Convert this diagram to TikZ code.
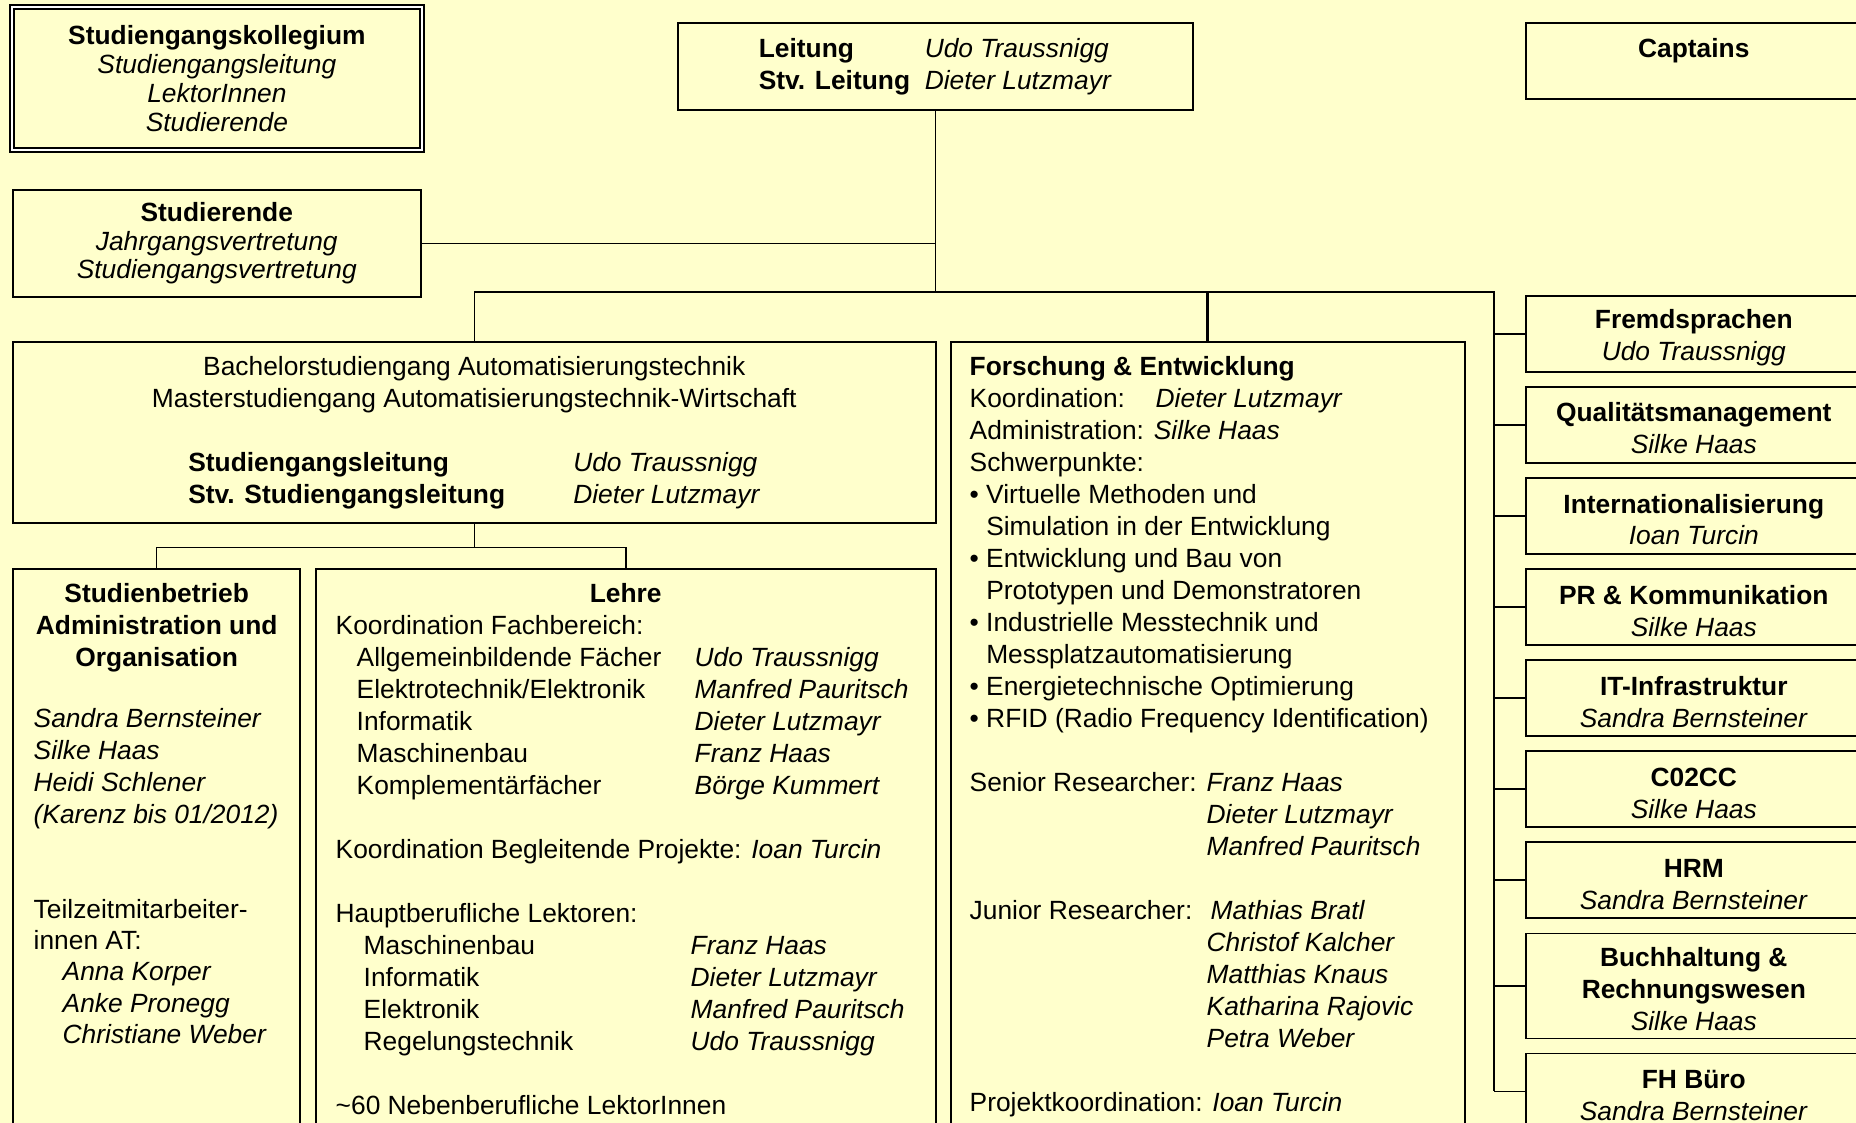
\documentclass[tikz,border=0pt]{standalone}
\usepackage{fontspec}
\setmainfont{Liberation Sans}
\usetikzlibrary{positioning}

\definecolor{paper}{HTML}{FFFFCC}

\tikzset{
    box/.style={draw, fill=paper, line width=0.45pt, inner sep=0pt, anchor=north west, align=center},
    sidebox/.style={box, minimum width=3.36cm, minimum height=0.76cm},
    boxtext/.style={anchor=north west, inner sep=0pt, align=left},
    tight/.style={font=\fontsize{7.5}{8.2}\selectfont},
    link/.style={line width=0.45pt},
    mainlink/.style={line width=0.8pt}
}

\newcommand{\nm}[1]{\textit{#1}}
\newcommand{\hd}[1]{\rule{0pt}{7.5pt}\textbf{#1}}
\newcommand{\fachrow}[3]{\makebox[#1][l]{#2}\nm{#3}}
\newcommand{\contline}{\hphantom{• }}

\begin{document}
\begin{tikzpicture}[font=\fontsize{7.5}{9.1}\selectfont]
    \useasboundingbox (0,0) rectangle (18.56,-11.23);
    \clip (0,0) rectangle (18.56,-11.23);
    \fill[paper] (0,0) rectangle (18.56,-11.23);

    % top row
    \node[box, tight, double, line width=0.5pt, double distance=0.6pt,
        minimum width=4.10cm, minimum height=1.43cm] (kolleg) at (0.11,-0.06)
        {\textbf{Studiengangskollegium}\\ \nm{Studiengangsleitung}\\ \nm{LektorInnen}\\ \nm{Studierende}};
    \node[box, minimum width=5.15cm, minimum height=0.87cm] (leitung) at (6.77,-0.22)
        {\makebox[1.66cm][l]{\textbf{Leitung}}\makebox[1.87cm][l]{\nm{Udo Traussnigg}}\\
         \makebox[1.66cm][l]{\textbf{Stv. Leitung}}\makebox[1.87cm][l]{\nm{Dieter Lutzmayr}}};
    \node[box, minimum width=3.36cm, minimum height=0.76cm] (captains) at (15.25,-0.22)
        {\textbf{Captains}\\[-4.6pt] \strut};
    \node[box, tight, minimum width=4.08cm, minimum height=1.07cm] (studierende) at (0.12,-1.89)
        {\textbf{Studierende}\\ \nm{Jahrgangsvertretung}\\ \nm{Studiengangsvertretung}};

    % Studiengang
    \node[box, minimum width=9.23cm, minimum height=1.81cm] (bachelor) at (0.12,-3.41)
        {Bachelorstudiengang Automatisierungstechnik\\
         Masterstudiengang Automatisierungstechnik-Wirtschaft\\[9.1pt]
         \makebox[3.85cm][l]{\textbf{Studiengangsleitung}}\makebox[1.87cm][l]{\nm{Udo Traussnigg}}\\
         \makebox[3.85cm][l]{\textbf{Stv. Studiengangsleitung}}\makebox[1.87cm][l]{\nm{Dieter Lutzmayr}}};
    \node[box, minimum width=2.87cm, minimum height=5.8cm] (betrieb) at (0.12,-5.68) {};
    \node[box, minimum width=6.20cm, minimum height=5.8cm] (lehre) at (3.15,-5.68) {};
    \node[box, minimum width=5.14cm, minimum height=8.1cm] (fue) at (9.50,-3.41) {};

    \node[boxtext] (betriebtext) at ([shift={(0.21,-0.15)}]betrieb.north west)
        {\makebox[2.46cm]{\textbf{Studienbetrieb}}\\
         \makebox[2.46cm]{\textbf{Administration und}}\\
         \makebox[2.46cm]{\textbf{Organisation}}\\[8.1pt]
         \nm{Sandra Bernsteiner}\\
         \nm{Silke Haas}\\
         \nm{Heidi Schlener}\\
         \nm{(Karenz bis 01/2012)}\\[18pt]
         Teilzeitmitarbeiter-\\[-0.2pt]
         innen AT:\\[-0.2pt]
         \hspace*{0.29cm}\nm{Anna Korper}\\[-0.2pt]
         \hspace*{0.29cm}\nm{Anke Pronegg}\\[-0.2pt]
         \hspace*{0.29cm}\nm{Christiane Weber}};

    \node[boxtext] (lehretext) at ([shift={(0.20,-0.15)}]lehre.north west)
        {\makebox[5.8cm]{\textbf{Lehre}}\\
         Koordination Fachbereich:\\
         \hspace*{0.21cm}\fachrow{3.38cm}{Allgemeinbildende Fächer}{Udo Traussnigg}\\
         \hspace*{0.21cm}\fachrow{3.38cm}{Elektrotechnik/Elektronik}{Manfred Pauritsch}\\
         \hspace*{0.21cm}\fachrow{3.38cm}{Informatik}{Dieter Lutzmayr}\\
         \hspace*{0.21cm}\fachrow{3.38cm}{Maschinenbau}{Franz Haas}\\
         \hspace*{0.21cm}\fachrow{3.38cm}{Komplementärfächer}{Börge Kummert}\\[9.1pt]
         Koordination Begleitende Projekte: \nm{Ioan Turcin}\\[9.1pt]
         Hauptberufliche Lektoren:\\
         \hspace*{0.28cm}\fachrow{3.27cm}{Maschinenbau}{Franz Haas}\\
         \hspace*{0.28cm}\fachrow{3.27cm}{Informatik}{Dieter Lutzmayr}\\
         \hspace*{0.28cm}\fachrow{3.27cm}{Elektronik}{Manfred Pauritsch}\\
         \hspace*{0.28cm}\fachrow{3.27cm}{Regelungstechnik}{Udo Traussnigg}\\[9.1pt]
         \textasciitilde 60 Nebenberufliche LektorInnen};

    \node[boxtext] (fuetext) at ([shift={(0.19,-0.15)}]fue.north west)
        {\textbf{Forschung \& Entwicklung}\\
         \fachrow{1.86cm}{Koordination:}{Dieter Lutzmayr}\\
         Administration: \nm{Silke Haas}\\
         Schwerpunkte:\\
         • Virtuelle Methoden und\\
         \contline Simulation in der Entwicklung\\
         • Entwicklung und Bau von\\
         \contline Prototypen und Demonstratoren\\
         • Industrielle Messtechnik und\\
         \contline Messplatzautomatisierung\\
         • Energietechnische Optimierung\\
         • RFID (Radio Frequency Identification)\\[9.1pt]
         \fachrow{2.37cm}{Senior Researcher:}{Franz Haas}\\
         \hspace*{2.37cm}\nm{Dieter Lutzmayr}\\
         \hspace*{2.37cm}\nm{Manfred Pauritsch}\\[9.1pt]
         \fachrow{2.41cm}{Junior Researcher:}{Mathias Bratl}\\
         \hspace*{2.37cm}\nm{Christof Kalcher}\\
         \hspace*{2.37cm}\nm{Matthias Knaus}\\
         \hspace*{2.37cm}\nm{Katharina Rajovic}\\
         \hspace*{2.37cm}\nm{Petra Weber}\\[9.1pt]
         Projektkoordination: \nm{Ioan Turcin}};

    % right column
    \node[sidebox] (fremd) at (15.25,-2.95) {\hd{Fremdsprachen}\\ \nm{Udo Traussnigg}};
    \node[sidebox, below=0.135cm of fremd] (quali) {\hd{Qualitätsmanagement}\\ \nm{Silke Haas}};
    \node[sidebox, below=0.135cm of quali] (intern) {\hd{Internationalisierung}\\ \nm{Ioan Turcin}};
    \node[sidebox, below=0.135cm of intern] (pr) {\hd{PR \& Kommunikation}\\ \nm{Silke Haas}};
    \node[sidebox, below=0.135cm of pr] (it) {\hd{IT-Infrastruktur}\\ \nm{Sandra Bernsteiner}};
    \node[sidebox, below=0.135cm of it] (cocc) {\hd{C02CC}\\ \nm{Silke Haas}};
    \node[sidebox, below=0.135cm of cocc] (hrm) {\hd{HRM}\\ \nm{Sandra Bernsteiner}};
    \node[sidebox, below=0.135cm of hrm, minimum height=1.05cm] (buch)
        {\hd{Buchhaltung \&}\\ \textbf{Rechnungswesen}\\ \nm{Silke Haas}};
    \node[sidebox, below=0.135cm of buch] (fhbuero) {\hd{FH Büro}\\ \nm{Sandra Bernsteiner}};

    % connectors
    \coordinate (bus) at (0,-2.92);
    \coordinate (spine) at (14.94,-2.92);
    \draw[link] (leitung.south) -- (leitung.south |- bus);
    \draw[link] (studierende.east) -- (studierende.east -| leitung.south);
    \draw[link] (bachelor.north) |- (bus -| fue.north);
    \draw[mainlink] (fue.north) |- (spine) -- (spine |- fhbuero.west);
    \foreach \b in {fremd,quali,intern,pr,it,cocc,hrm,buch,fhbuero}
        \draw[link] (spine |- \b.west) -- (\b.west);
    \draw[link] (bachelor.south) -- ++(0,-0.24) coordinate (fork);
    \draw[link] (betrieb.north) |- (fork) -| (lehre.north);
\end{tikzpicture}
\end{document}
